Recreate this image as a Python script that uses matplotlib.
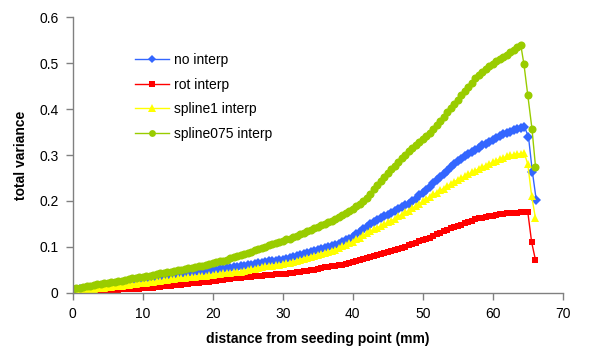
import matplotlib
matplotlib.use("Agg")
import matplotlib.pyplot as plt
import numpy as np
from matplotlib.ticker import FuncFormatter, MultipleLocator

no_x = list(np.arange(0, 64.51, 0.5)) + [65.1, 65.65, 66.2]
no_y = [0.005, 0.006, 0.007, 0.008, 0.009, 0.010, 0.011, 0.013, 0.014, 0.015,
        0.016, 0.017, 0.018, 0.019, 0.020, 0.022, 0.023, 0.025, 0.026, 0.027,
        0.028, 0.029, 0.030, 0.032, 0.033, 0.034, 0.035, 0.036, 0.037, 0.038,
        0.039, 0.040, 0.041, 0.042, 0.043, 0.044, 0.045, 0.046, 0.047, 0.048,
        0.049, 0.050, 0.051, 0.052, 0.053, 0.054, 0.055, 0.056, 0.057, 0.059,
        0.060, 0.061, 0.062, 0.064, 0.065, 0.067, 0.068, 0.069, 0.070, 0.071,
        0.072, 0.074, 0.075, 0.078, 0.080, 0.083, 0.085, 0.087, 0.089, 0.091,
        0.093, 0.095, 0.097, 0.099, 0.101, 0.104, 0.107, 0.111, 0.114, 0.118,
        0.122, 0.127, 0.132, 0.138, 0.144, 0.149, 0.154, 0.158, 0.162, 0.166,
        0.170, 0.174, 0.178, 0.182, 0.186, 0.190, 0.194, 0.200, 0.205, 0.212,
        0.218, 0.224, 0.230, 0.238, 0.245, 0.252, 0.259, 0.266, 0.273, 0.280,
        0.286, 0.292, 0.297, 0.302, 0.307, 0.312, 0.316, 0.321, 0.325, 0.329,
        0.333, 0.337, 0.341, 0.345, 0.348, 0.351, 0.354, 0.357, 0.359, 0.362,
        0.340, 0.264, 0.203]

rot_x = list(np.arange(0, 65.01, 0.5)) + [65.55, 66.1]
rot_y = [0.004, 0.005, 0.006, 0.006, 0.006, 0.006, 0.006, 0.006, 0.006, 0.006,
         0.006, 0.006, 0.006, 0.006, 0.007, 0.007, 0.008, 0.008, 0.009, 0.009,
         0.010, 0.010, 0.011, 0.011, 0.012, 0.013, 0.014, 0.014, 0.015, 0.016,
         0.017, 0.017, 0.018, 0.019, 0.020, 0.021, 0.022, 0.023, 0.024, 0.024,
         0.025, 0.026, 0.027, 0.028, 0.029, 0.030, 0.031, 0.031, 0.032, 0.033,
         0.034, 0.035, 0.036, 0.036, 0.037, 0.038, 0.039, 0.039, 0.040, 0.040,
         0.041, 0.041, 0.042, 0.043, 0.045, 0.046, 0.047, 0.048, 0.049, 0.050,
         0.052, 0.053, 0.055, 0.056, 0.058, 0.059, 0.060, 0.061, 0.062, 0.064,
         0.066, 0.068, 0.071, 0.073, 0.076, 0.078, 0.080, 0.082, 0.084, 0.086,
         0.088, 0.090, 0.093, 0.095, 0.098, 0.100, 0.103, 0.106, 0.109, 0.112,
         0.115, 0.117, 0.120, 0.123, 0.127, 0.130, 0.134, 0.137, 0.140, 0.143,
         0.146, 0.148, 0.151, 0.154, 0.157, 0.160, 0.162, 0.163, 0.165, 0.166,
         0.168, 0.169, 0.171, 0.172, 0.173, 0.173, 0.174, 0.174, 0.175, 0.175,
         0.176, 0.110, 0.071]

sp1_x = list(np.arange(0, 64.51, 0.5)) + [65.0, 65.55, 66.1]
sp1_y = [0.003, 0.004, 0.005, 0.006, 0.007, 0.008, 0.009, 0.010, 0.010, 0.011,
         0.012, 0.013, 0.014, 0.015, 0.015, 0.016, 0.017, 0.018, 0.019, 0.020,
         0.021, 0.022, 0.023, 0.024, 0.025, 0.026, 0.027, 0.028, 0.029, 0.030,
         0.031, 0.032, 0.032, 0.033, 0.034, 0.035, 0.036, 0.037, 0.037, 0.038,
         0.039, 0.040, 0.041, 0.042, 0.042, 0.043, 0.044, 0.045, 0.046, 0.048,
         0.049, 0.051, 0.052, 0.054, 0.055, 0.057, 0.058, 0.059, 0.060, 0.061,
         0.062, 0.064, 0.065, 0.067, 0.069, 0.072, 0.074, 0.076, 0.078, 0.080,
         0.082, 0.084, 0.086, 0.089, 0.091, 0.094, 0.097, 0.101, 0.104, 0.108,
         0.111, 0.116, 0.120, 0.125, 0.129, 0.134, 0.138, 0.142, 0.145, 0.149,
         0.153, 0.157, 0.161, 0.166, 0.170, 0.175, 0.179, 0.184, 0.189, 0.194,
         0.199, 0.204, 0.209, 0.214, 0.218, 0.223, 0.227, 0.232, 0.237, 0.242,
         0.246, 0.250, 0.254, 0.258, 0.262, 0.266, 0.270, 0.274, 0.277, 0.281,
         0.284, 0.288, 0.291, 0.294, 0.297, 0.299, 0.301, 0.302, 0.303, 0.304,
         0.280, 0.211, 0.162]

sp075_x = list(np.arange(0, 64.01, 0.5)) + [64.45, 65.0, 65.6, 66.1]
sp075_y = [0.008, 0.010, 0.011, 0.012, 0.014, 0.015, 0.016, 0.018, 0.019, 0.020,
           0.021, 0.023, 0.024, 0.025, 0.026, 0.028, 0.029, 0.031, 0.032, 0.033,
           0.034, 0.036, 0.037, 0.039, 0.040, 0.042, 0.043, 0.045, 0.046, 0.048,
           0.049, 0.050, 0.051, 0.053, 0.054, 0.056, 0.057, 0.059, 0.061, 0.063,
           0.064, 0.066, 0.068, 0.070, 0.072, 0.075, 0.077, 0.079, 0.081, 0.084,
           0.086, 0.089, 0.092, 0.095, 0.097, 0.100, 0.103, 0.106, 0.108, 0.111,
           0.113, 0.116, 0.118, 0.121, 0.124, 0.128, 0.131, 0.134, 0.137, 0.141,
           0.144, 0.147, 0.150, 0.154, 0.157, 0.161, 0.165, 0.170, 0.174, 0.179,
           0.183, 0.188, 0.193, 0.200, 0.207, 0.216, 0.225, 0.234, 0.243, 0.252,
           0.261, 0.269, 0.277, 0.285, 0.293, 0.301, 0.309, 0.316, 0.322, 0.329,
           0.335, 0.342, 0.348, 0.357, 0.366, 0.375, 0.384, 0.393, 0.402, 0.411,
           0.420, 0.430, 0.439, 0.449, 0.458, 0.467, 0.475, 0.482, 0.488, 0.494,
           0.499, 0.504, 0.509, 0.514, 0.519, 0.525, 0.530, 0.535, 0.540,
           0.498, 0.431, 0.357, 0.275]

labels = ["no interp", "rot interp", "spline1 interp", "spline075 interp"]
x_ticks = [0, 10, 20, 30, 40, 50, 60, 70]

plt.rcParams['font.family'] = ['Liberation Sans', 'DejaVu Sans']

fig = plt.figure(figsize=(6.0, 3.56), dpi=100)
ax = fig.add_axes([0.121, 0.178, 0.817, 0.773])

series = [
    (no_x, no_y, "#3366FF", "D", 5.0),
    (rot_x, rot_y, "#FF0000", "s", 5.0),
    (sp1_x, sp1_y, "#FFFF00", "^", 6.0),
    (sp075_x, sp075_y, "#99CC00", "o", 5.8),
]
for (xs, ys, c, m, ms), lab in zip(series, labels):
    ax.plot(xs, ys, color=c, marker=m, markersize=ms, markeredgewidth=0,
            linewidth=1.0, label=lab)

ax.set_xlim(0, 70)
ax.set_ylim(0, 0.6)
ax.set_xticks(x_ticks)
ax.yaxis.set_major_locator(MultipleLocator(0.1))
ax.yaxis.set_major_formatter(FuncFormatter(lambda v, p: "0" if abs(v) < 1e-9 else f"{v:.1f}"))

for s in ["top", "right"]:
    ax.spines[s].set_visible(False)
for s in ["left", "bottom"]:
    ax.spines[s].set_color("#808080")
    ax.spines[s].set_linewidth(1.0)
ax.tick_params(axis="both", direction="out", length=5, width=1.0, color="#808080",
               labelsize=10, labelcolor="black", pad=5)

ax.set_xlabel("distance from seeding point (mm)", fontsize=10, fontweight="bold", labelpad=8)
ax.set_ylabel("total variance", fontsize=10, fontweight="bold", labelpad=8)

leg = ax.legend(loc="upper left", bbox_to_anchor=(0.1025, 0.915), frameon=False,
                fontsize=10, handlelength=2.45, labelspacing=0.75, handletextpad=0.3,
                markerscale=0.85)

fig.savefig("out.png", dpi=100)
